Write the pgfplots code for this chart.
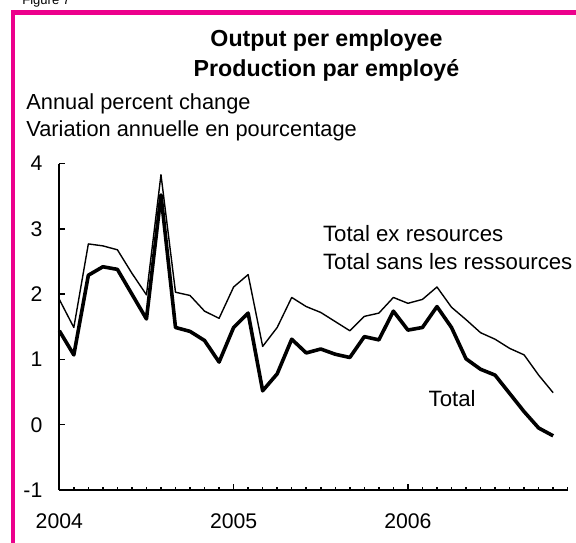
\documentclass[border=0pt]{standalone}
\usepackage{fontspec}
\setmainfont{Liberation Sans}
\usepackage{pgfplots}
\pgfplotsset{compat=1.18}
\definecolor{framepink}{RGB}{236,0,140}

\pgfplotstableread{
m exres total
0 1.92 1.44
1 1.49 1.07
2 2.77 2.29
3 2.74 2.42
4 2.68 2.38
5 2.32 2.00
6 1.99 1.62
7 3.83 3.52
8 2.03 1.49
9 1.98 1.43
10 1.74 1.29
11 1.63 0.96
12 2.11 1.49
13 2.30 1.71
14 1.20 0.52
15 1.49 0.78
16 1.95 1.31
17 1.81 1.10
18 1.72 1.16
19 1.58 1.08
20 1.44 1.03
21 1.66 1.35
22 1.71 1.30
23 1.95 1.74
24 1.86 1.45
25 1.92 1.49
26 2.11 1.81
27 1.80 1.49
28 1.61 1.01
29 1.41 0.85
30 1.31 0.76
31 1.17 0.48
32 1.07 0.20
33 0.76 -0.05
34 0.49 -0.17
}\outputdata

\newcommand\lbl{\fontsize{10.9}{13}\selectfont}
\newcommand\serlbl{\fontsize{11.1}{13}\selectfont}

\begin{document}
\begin{tikzpicture}[x=0.5pt,y=-0.5pt]
\useasboundingbox (0,0) rectangle (576,542);
% frame
\draw[framepink, line width=2.2pt] (13,545) -- (13,12.5) -- (580,12.5);
\node[anchor=base west, inner sep=0pt, font=\fontsize{6.5}{7}\selectfont] at (22,4) {Figure 7};
% titles
\node[anchor=base, inner sep=0pt, font=\bfseries\fontsize{11.6}{13}\selectfont] at (326.5,46) {Output per employee};
\node[anchor=base, inner sep=0pt, font=\bfseries\fontsize{11.6}{13}\selectfont] at (326.5,76.7) {Production par employé};
\node[anchor=base west, inner sep=0pt, font=\lbl] at (26,109.3) {Annual percent change};
\node[anchor=base west, inner sep=0pt, font=\lbl] at (26,136.3) {Variation annuelle en pourcentage};
% series labels
\node[anchor=base west, inner sep=0pt, font=\serlbl] at (322.7,241) {Total ex resources};
\node[anchor=base west, inner sep=0pt, font=\serlbl] at (322.7,269) {Total sans les ressources};
\node[anchor=base west, inner sep=0pt, font=\serlbl] at (428.3,406.7) {Total};

\begin{axis}[
  at={(29.65pt,-245pt)}, anchor=south west,
  width=254.2pt, height=163.2pt, scale only axis,
  xmin=0, xmax=35, ymin=-1, ymax=4,
  axis lines=left,
  axis line style={-, line width=1pt},
  xtick={0,12,24}, xticklabels={2004,2005,2006},
  minor xtick={1,...,35},
  ytick={-1,0,1,2,3,4}, yticklabels={-1,0,1,2,3,4},
  tick align=inside,
  major tick length=2.8pt, minor tick length=1.5pt,
  tick style={black, line width=0.75pt},
  xticklabel style={anchor=north, inner sep=0pt, yshift=-11.5pt, font=\fontsize{10.6}{12}\selectfont},
  yticklabel style={anchor=east, inner sep=0pt, xshift=-8.3pt, font=\fontsize{10.6}{12}\selectfont},
  clip=false,
]
\addplot[black, line width=0.7pt, line join=round] table[x=m, y=exres] {\outputdata};
\addplot[black, line width=1.8pt, line join=round] table[x=m, y=total] {\outputdata};
\end{axis}
\end{tikzpicture}
\end{document}
